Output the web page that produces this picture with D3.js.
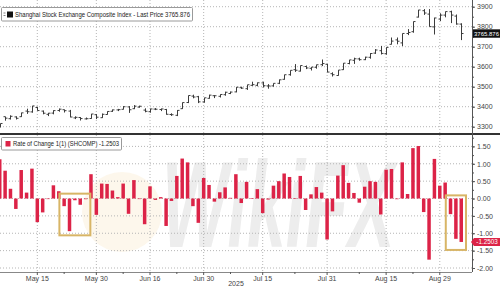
<!DOCTYPE html>
<html>
<head>
<meta charset="utf-8">
<script src="https://cdn.jsdelivr.net/npm/d3@7/dist/d3.min.js"></script>
<style>
  body { margin: 0; background: #fff; }
  svg { display: block; font-family: "Liberation Sans", Arial, sans-serif; }
</style>
</head>
<body>
<div id="chart"></div>
<script>
// trading days shown on the chart
const dates = ["2025-05-06","2025-05-07","2025-05-08","2025-05-09","2025-05-12","2025-05-13","2025-05-14","2025-05-15","2025-05-16","2025-05-19","2025-05-20","2025-05-21","2025-05-22","2025-05-23","2025-05-26","2025-05-27","2025-05-28","2025-05-29","2025-05-30",
  "2025-06-03","2025-06-04","2025-06-05","2025-06-06","2025-06-09","2025-06-10","2025-06-11","2025-06-12","2025-06-13","2025-06-16","2025-06-17","2025-06-18","2025-06-19","2025-06-20","2025-06-23","2025-06-24","2025-06-25","2025-06-26","2025-06-27","2025-06-30",
  "2025-07-01","2025-07-02","2025-07-03","2025-07-04","2025-07-07","2025-07-08","2025-07-09","2025-07-10","2025-07-11","2025-07-14","2025-07-15","2025-07-16","2025-07-17","2025-07-18","2025-07-21","2025-07-22","2025-07-23","2025-07-24","2025-07-25","2025-07-28","2025-07-29","2025-07-30","2025-07-31",
  "2025-08-01","2025-08-04","2025-08-05","2025-08-06","2025-08-07","2025-08-08","2025-08-11","2025-08-12","2025-08-13","2025-08-14","2025-08-15","2025-08-18","2025-08-19","2025-08-20","2025-08-21","2025-08-22","2025-08-25","2025-08-26","2025-08-27","2025-08-28","2025-08-29",
  "2025-09-01","2025-09-02","2025-09-03","2025-09-04"];

// SHCOMP daily OHLC
const open  = [3302,3350,3340,3349,3350,3378,3374,3396,3378,3362,3368,3381,3385,3378,3344,3346,3339,3341,3360,
  3345,3361,3377,3384,3387,3399,3390,3398,3383,3375,3388,3386,3386,3361,3357,3390,3421,3453,3450,3424,
  3442,3455,3452,3460,3466,3474,3495,3490,3507,3507,3519,3504,3504,3517,3537,3560,3585,3578,3601,3592,3597,3610,3612,
  3565,3556,3585,3616,3632,3639,3635,3647,3668,3680,3665,3712,3734,3719,3766,3775,3848,3880,3863,3799,3838,
  3858,3875,3853,3813];
const high  = [3316,3350,3357,3352,3370,3390,3404,3400,3381,3369,3382,3391,3386,3384,3352,3348,3346,3364,3363,
  3366,3377,3386,3389,3403,3403,3408,3405,3392,3390,3393,3391,3389,3367,3383,3421,3456,3460,3454,3445,
  3460,3458,3462,3475,3476,3498,3500,3510,3525,3521,3525,3513,3517,3536,3560,3582,3613,3606,3606,3598,3610,3636,3614,
  3572,3583,3618,3634,3645,3645,3650,3668,3688,3704,3697,3746,3746,3766,3788,3826,3884,3888,3888,3845,3867,
  3876,3880,3861,3817];
const low   = [3296,3330,3336,3336,3349,3364,3370,3380,3362,3353,3362,3375,3371,3347,3338,3331,3336,3340,3338,
  3344,3360,3374,3378,3386,3369,3388,3395,3372,3370,3383,3378,3360,3354,3353,3389,3418,3442,3418,3420,
  3440,3443,3446,3455,3463,3472,3489,3484,3504,3502,3496,3490,3500,3513,3535,3555,3574,3576,3588,3581,3590,3603,3572,
  3551,3555,3584,3612,3614,3630,3633,3640,3664,3661,3660,3711,3712,3703,3758,3770,3846,3859,3800,3761,3828,
  3847,3818,3810,3733];
const close = [3316.11,3342.67,3352.00,3342.00,3369.24,3374.87,3403.95,3380.82,3367.46,3367.58,3380.48,3387.57,3380.19,3348.37,3346.84,3340.69,3339.93,3363.45,3347.49,
  3361.98,3376.20,3384.10,3385.36,3399.77,3384.82,3402.66,3402.32,3377.00,3388.73,3387.40,3388.81,3362.11,3359.90,3381.58,3420.57,3455.97,3448.45,3424.23,3444.43,
  3457.75,3454.79,3461.15,3472.32,3473.13,3497.48,3492.89,3509.68,3510.18,3519.65,3505.00,3503.78,3516.83,3534.48,3559.79,3581.86,3582.30,3605.73,3593.66,3597.94,3609.71,3615.72,3573.21,
  3559.95,3583.31,3617.60,3633.99,3639.67,3635.13,3647.55,3665.92,3683.46,3666.44,3696.77,3728.03,3727.29,3766.21,3771.10,3825.76,3883.56,3868.38,3800.35,3843.60,3857.93,
  3875.53,3858.13,3813.56,3765.876];

// Rate of change 1(1), percent
const roc = [1.13,0.80,0.28,-0.30,0.82,0.17,0.86,-0.68,-0.40,0.00,0.38,0.21,-0.22,-0.94,-0.05,-0.18,-0.02,0.70,-0.47,
  0.43,0.42,0.23,0.04,0.43,-0.44,0.53,-0.01,-0.74,0.35,-0.04,0.04,-0.79,-0.07,0.65,1.15,1.04,-0.22,-0.70,0.59,
  0.39,-0.09,0.18,0.32,0.02,0.70,-0.13,0.48,0.01,0.27,-0.42,-0.03,0.37,0.50,0.72,0.62,0.01,0.65,-0.33,0.12,0.33,0.17,-1.18,
  -0.37,0.66,0.96,0.45,0.16,-0.12,0.34,0.50,0.48,-0.46,0.83,0.85,-0.02,1.04,0.13,1.45,1.51,-0.39,-1.76,1.14,0.37,
  0.46,-0.45,-1.16,-1.2503];

const tickDates = ["2025-05-15","2025-05-30","2025-06-16","2025-06-30","2025-07-15","2025-07-31","2025-08-15","2025-08-29"];
const minorDates = ["2025-05-22","2025-06-09","2025-06-23","2025-07-07","2025-07-23","2025-08-08","2025-08-22"];
const priceTicks = [3300,3400,3500,3600,3700,3800,3900];
const rocTicks = [-2,-1.5,-1,-0.5,0,0.5,1,1.5];

const lastPrice = "3765.876";
const lastRoc = "-1.2503";
const priceTitle = "Shanghai Stock Exchange Composite Index - Last Price " + lastPrice;
const rocTitle = "Rate of Change 1(1) (SHCOMP) " + lastRoc;

// highlighted stretches in the lower panel
const boxes = [
  {from: "2025-05-22", to: "2025-05-28", hi: 0.14, lo: -1.06},
  {from: "2025-09-02", to: "2025-09-04", hi: 0.09, lo: -1.48}
];

const W = 500, H = 287;
const axisX = 472;
const red = "#dc2347";
const grid = "#b5b5b5";

const svg = d3.select("#chart").append("svg")
  .attr("width", W).attr("height", H);

const x = d3.scaleBand().domain(dates).range([-2, 463]).paddingInner(0.35);
const bw = x.bandwidth();
const cx = d => x(d) + bw / 2;

const yTop = d3.scaleLinear().domain([3300, 3900]).range([126.7, 6.7]);
const yBot = d3.scaleLinear().domain([-2, 1.5]).range([268, 146.4]);

svg.append("clipPath").attr("id", "clip")
  .append("rect").attr("x", 0).attr("y", 0).attr("width", axisX).attr("height", 272);

// watermark
const wm = svg.append("g");
wm.append("circle").attr("cx", 122).attr("cy", 212).attr("r", 40)
  .attr("fill", "#fcf1df").attr("opacity", 0.6);
wm.append("text")
  .attr("transform", "translate(162,247) scale(1,1.75)")
  .style("font-size", "70px").style("font-weight", "bold").style("font-style", "italic")
  .style("fill", "#ededed")
  .text("WikiFX");

// vertical grid
svg.append("g").selectAll("line")
  .data(tickDates).join("line")
  .attr("x1", d => cx(d)).attr("x2", d => cx(d))
  .attr("y1", 0).attr("y2", 272)
  .attr("stroke", grid).attr("stroke-dasharray", "1,2");

// horizontal grid, top
svg.append("g").selectAll("line")
  .data(priceTicks).join("line")
  .attr("x1", 0).attr("x2", axisX)
  .attr("y1", d => yTop(d)).attr("y2", d => yTop(d))
  .attr("stroke", grid).attr("stroke-dasharray", "1,2");

// horizontal grid, bottom
svg.append("g").selectAll("line")
  .data(rocTicks).join("line")
  .attr("x1", 0).attr("x2", axisX)
  .attr("y1", d => yBot(d)).attr("y2", d => yBot(d))
  .attr("stroke", grid).attr("stroke-dasharray", "1,2");

// OHLC bars
const ohlc = svg.append("g").attr("clip-path", "url(#clip)")
  .attr("stroke", "#3c3c3c").attr("stroke-width", 1);
dates.forEach((d, i) => {
  const c = Math.round(cx(d)) + 0.5;
  ohlc.append("line").attr("x1", c).attr("x2", c)
    .attr("y1", yTop(high[i])).attr("y2", yTop(low[i]));
  ohlc.append("line").attr("x1", c - 2).attr("x2", c)
    .attr("y1", yTop(open[i])).attr("y2", yTop(open[i]));
  ohlc.append("line").attr("x1", c).attr("x2", c + 2)
    .attr("y1", yTop(close[i])).attr("y2", yTop(close[i]));
});

// ROC bars
svg.append("g").attr("clip-path", "url(#clip)")
  .selectAll("rect")
  .data(dates).join("rect")
  .attr("x", d => x(d))
  .attr("width", bw)
  .attr("y", (d, i) => yBot(Math.max(0, roc[i])))
  .attr("height", (d, i) => Math.max(0.6, Math.abs(yBot(roc[i]) - yBot(0))))
  .attr("fill", red);

// highlight boxes
svg.append("g").selectAll("rect")
  .data(boxes).join("rect")
  .attr("x", d => x(d.from) - 3)
  .attr("y", d => yBot(d.hi))
  .attr("width", d => x(d.to) + bw + 3 - (x(d.from) - 3))
  .attr("height", d => yBot(d.lo) - yBot(d.hi))
  .attr("fill", "none").attr("stroke", "#d8b566").attr("stroke-width", 2);

// panel separator and right axis line
svg.append("line").attr("x1", 0).attr("x2", W).attr("y1", 134).attr("y2", 134)
  .attr("stroke", "#333").attr("stroke-width", 2);
svg.append("line").attr("x1", axisX + 0.5).attr("x2", axisX + 0.5).attr("y1", 0).attr("y2", 272)
  .attr("stroke", "#555");

function styleAxis(g) {
  g.select(".domain").remove();
  g.selectAll("line").attr("stroke", "#555");
  g.selectAll("text").style("font-size", "7px").style("fill", "#444")
    .style("font-family", "'Liberation Sans', Arial, sans-serif");
}
function minorAxis(g) {
  styleAxis(g);
  g.selectAll("text").remove();
}

// right axes
svg.append("g").attr("transform", `translate(${axisX},0)`)
  .call(d3.axisRight(yTop).tickValues(d3.range(3300, 3901, 50)).tickSize(2))
  .call(minorAxis);
svg.append("g").attr("transform", `translate(${axisX},0)`)
  .call(d3.axisRight(yTop).tickValues(priceTicks).tickSize(3).tickPadding(2).tickFormat(d => d))
  .call(styleAxis);
svg.append("g").attr("transform", `translate(${axisX},0)`)
  .call(d3.axisRight(yBot).tickValues(d3.range(-2, 1.76, 0.25)).tickSize(2))
  .call(minorAxis);
svg.append("g").attr("transform", `translate(${axisX},0)`)
  .call(d3.axisRight(yBot).tickValues(rocTicks).tickSize(3).tickPadding(2).tickFormat(d => d.toFixed(2)))
  .call(styleAxis);

// bottom axis
svg.append("line").attr("x1", 0).attr("x2", axisX).attr("y1", 272.5).attr("y2", 272.5)
  .attr("stroke", "#888");
const fmt = d3.timeFormat("%b %-d");
const parse = d3.timeParse("%Y-%m-%d");
svg.append("g").attr("transform", "translate(0,272)")
  .call(d3.axisBottom(x).tickValues(tickDates).tickSize(3).tickPadding(1).tickFormat(d => fmt(parse(d))))
  .call(styleAxis);
svg.append("g").attr("transform", "translate(0,272)")
  .call(d3.axisBottom(x).tickValues(minorDates).tickSize(2))
  .call(minorAxis);
svg.append("text").attr("x", 236).attr("y", 286)
  .attr("text-anchor", "middle")
  .style("font-size", "7px").style("fill", "#444").text("2025");

// last value tags
const ly1 = yTop(+lastPrice);
svg.append("rect").attr("x", 473).attr("y", ly1 - 4.2).attr("width", 27).attr("height", 8.4)
  .attr("fill", "#111");
svg.append("text").attr("x", 486.5).attr("y", ly1 + 2.2).attr("text-anchor", "middle")
  .style("font-size", "6px").style("fill", "#fff").text(lastPrice);

const ly2 = yBot(+lastRoc);
svg.append("path")
  .attr("d", `M471,${ly2} L474,${ly2 - 4} L500,${ly2 - 4} L500,${ly2 + 4} L474,${ly2 + 4} Z`)
  .attr("fill", red);
svg.append("text").attr("x", 487).attr("y", ly2 + 2.2).attr("text-anchor", "middle")
  .style("font-size", "6.3px").style("fill", "#fff").text(lastRoc);

// legends
const leg1 = svg.append("g");
leg1.append("rect").attr("x", 1.5).attr("y", 7.5).attr("width", 191).attr("height", 13.5)
  .attr("fill", "#fff").attr("stroke", "#9a9a9a").attr("rx", 1);
leg1.append("rect").attr("x", 3.5).attr("y", 12.5).attr("width", 2).attr("height", 1).attr("fill", "#888");
leg1.append("rect").attr("x", 3.5).attr("y", 15).attr("width", 2).attr("height", 1).attr("fill", "#888");
leg1.append("rect").attr("x", 7).attr("y", 11.5).attr("width", 6).attr("height", 6).attr("fill", "#111");
leg1.append("text").attr("x", 15).attr("y", 17)
  .attr("textLength", 175).attr("lengthAdjust", "spacingAndGlyphs")
  .style("font-size", "6.8px").style("fill", "#222").text(priceTitle);

const leg2 = svg.append("g");
leg2.append("rect").attr("x", 1.5).attr("y", 137.5).attr("width", 120).attr("height", 12.5)
  .attr("fill", "#fff").attr("stroke", "#9a9a9a").attr("rx", 1);
leg2.append("rect").attr("x", 5.5).attr("y", 141).attr("width", 5).attr("height", 5.5).attr("fill", red);
leg2.append("text").attr("x", 13).attr("y", 146.3)
  .attr("textLength", 106).attr("lengthAdjust", "spacingAndGlyphs")
  .style("font-size", "6.8px").style("fill", "#222").text(rocTitle);
</script>
</body>
</html>
